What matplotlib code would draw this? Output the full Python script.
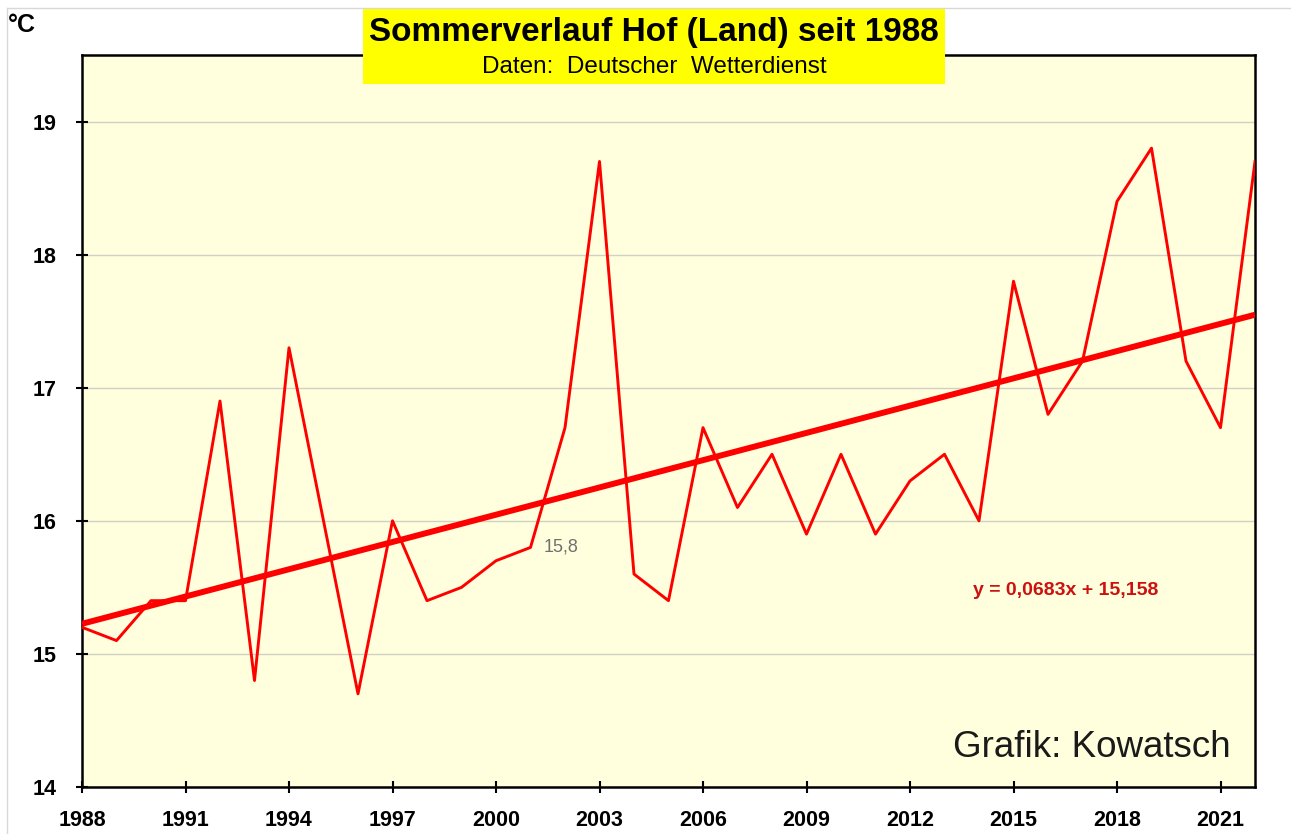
import matplotlib
matplotlib.use('Agg')
import matplotlib.pyplot as plt
import numpy as np

# Sommermittel Hof (Land), DWD
jahre = list(range(1988, 2023))
temp = [15.2, 15.1, 15.4, 15.4, 16.9, 14.8, 17.3, 16.0, 14.7, 16.0,
        15.4, 15.5, 15.7, 15.8, 16.7, 18.7, 15.6, 15.4, 16.7, 16.1,
        16.5, 15.9, 16.5, 15.9, 16.3, 16.5, 16.0, 17.8, 16.8, 17.2,
        18.4, 18.8, 17.2, 16.7, 18.7]

# Trendlinie aus der Gleichung in der Grafik (x = 1 .. 35)
steigung = 0.0683
achsenabschnitt = 15.158
x_index = np.arange(1, len(jahre) + 1)
trend = steigung * x_index + achsenabschnitt

x_ticks = list(range(1988, 2022, 3))
y_ticks = [14, 15, 16, 17, 18, 19]

plt.rcParams['font.family'] = ['Liberation Sans', 'DejaVu Sans']

fig = plt.figure(figsize=(12.91, 8.34), dpi=100)
ax = fig.add_axes([82 / 1291, 47 / 834, (1255 - 82) / 1291, (787 - 55) / 834])
ax.set_facecolor('#ffffdd')

ax.plot(jahre, trend, color='#ff0000', lw=4.3, solid_capstyle='butt', zorder=3)
ax.plot(jahre, temp, color='#ff0000', lw=2.1, zorder=4)

ax.set_xlim(1988, 2022)
ax.set_ylim(14, 19.5)
ax.set_xticks(x_ticks)
ax.set_yticks(y_ticks)
ax.yaxis.grid(True, color='#d0d0c8', lw=1.0)
ax.set_axisbelow(True)
ax.tick_params(direction='inout', length=9, width=1.5, labelsize=15.5)
for lab in ax.get_xticklabels() + ax.get_yticklabels():
    lab.set_fontweight('bold')
ax.tick_params(axis='x', pad=12)
ax.tick_params(axis='y', pad=14)
for sp in ax.spines.values():
    sp.set_linewidth(1.8)

# Titelbox
fig.patches.append(plt.Rectangle((363 / 1291, 1 - 84 / 834), (945 - 363) / 1291, 75 / 834,
                                 transform=fig.transFigure, facecolor='#ffff00',
                                 edgecolor='none', zorder=5))
fig.text(654 / 1291, 1 - 32 / 834, 'Sommerverlauf Hof (Land) seit 1988', ha='center', va='center',
         fontsize=24, fontweight='bold', zorder=6)
fig.text(654 / 1291, 1 - 67 / 834, 'Daten:  Deutscher  Wetterdienst', ha='center', va='center',
         fontsize=17.5, zorder=6)

fig.text(8 / 1291, 1 - 25 / 834, '°C', ha='left', va='center', fontsize=18, fontweight='bold')

# Rahmen oben/links
fig.add_artist(plt.Line2D([7 / 1291, 1], [1 - 8 / 834, 1 - 8 / 834], transform=fig.transFigure,
                          color='#d8d8d8', lw=1))
fig.add_artist(plt.Line2D([7 / 1291, 7 / 1291], [0, 1 - 8 / 834], transform=fig.transFigure,
                          color='#d8d8d8', lw=1))

ax.text(2001.9, 15.8, '15,8', color='#707070', fontsize=13, ha='center', va='center')
ax.text(2016.5, 15.48, 'y = 0,0683x + 15,158', color='#cc1111', fontsize=14,
        fontweight='bold', ha='center', va='center')
ax.text(2021.3, 14.3, 'Grafik: Kowatsch', color='#1a1a1a', fontsize=26.5,
        ha='right', va='center')

fig.savefig('out.png', dpi=100)
